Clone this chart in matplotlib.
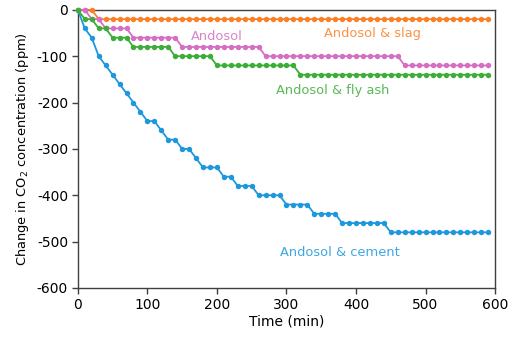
import numpy as np
import matplotlib
matplotlib.use("Agg")
import matplotlib.pyplot as plt

plt.rcParams["axes.unicode_minus"] = False

# time axis (min), one reading every 10 min
time_min = list(range(0, 600, 10))

# change in CO2 (ppm)
def steps(pairs):
    # pairs: (value, number of readings)
    out = []
    for v, n in pairs:
        out += [v] * n
    return out

slag = steps([(0, 3), (-20, 57)])
andosol = steps([(0, 2), (-20, 2), (-40, 4), (-60, 7), (-80, 12), (-100, 20), (-120, 13)])
fly_ash = steps([(0, 1), (-20, 2), (-40, 2), (-60, 3), (-80, 6), (-100, 6), (-120, 12), (-140, 28)])
cement = [0, -40, -60, -100, -120, -140, -160, -180, -200, -220, -240, -240, -260,
          -280, -280, -300, -300, -320] + steps([(-340, 3), (-360, 2), (-380, 3), (-400, 4),
                                                  (-420, 4), (-440, 4), (-460, 7), (-480, 15)])

# drawing order: green ends up on top, as in the original
series = [
    ("Andosol & cement", cement, "#1d98dc", (377, -523)),
    ("Andosol & slag", slag, "#fd7f23", (424, -50)),
    ("Andosol", andosol, "#d46fc3", (200, -58)),
    ("Andosol & fly ash", fly_ash, "#3cad37", (367, -175)),
]

fig = plt.figure(figsize=(5.12, 3.4), dpi=100)
ax = fig.add_axes([0.152, 0.153, 0.815, 0.818])

for name, vals, col, pos in series:
    ax.plot(time_min, vals, color=col, lw=1.3, marker="o", ms=3.9, mec=col, mew=0, clip_on=False, zorder=3)
    ax.text(pos[0], pos[1], name, color=col, alpha=0.85, fontsize=9.4, ha="center", va="center")

ax.set_xlim(0, 600)
ax.set_ylim(-600, 0)
ax.set_xticks(range(0, 601, 100))
ax.set_yticks(range(-600, 1, 100))
ax.tick_params(direction="out", length=4, width=1, color="#404040", labelsize=10, pad=3)
for s in ax.spines.values():
    s.set_color("#404040")
    s.set_linewidth(1)

ax.set_xlabel("Time (min)", fontsize=10, labelpad=2)
ax.set_ylabel("Change in CO$_2$ concentration (ppm)", fontsize=9.4, labelpad=4)

plt.savefig("out.png", dpi=100)
